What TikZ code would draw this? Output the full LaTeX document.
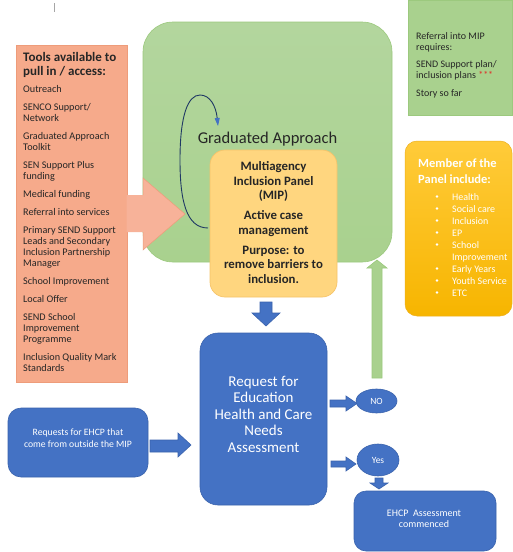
\documentclass[tikz,border=0pt]{standalone}
\usepackage{fontspec}
\setmainfont{Carlito}
\usetikzlibrary{arrows.meta,shapes.geometric}
\definecolor{gfill}{HTML}{A9D18E}
\definecolor{gtop}{HTML}{B3D69E}
\definecolor{gdraw}{HTML}{9CC97E}
\definecolor{ofill}{HTML}{F6AA8B}
\definecolor{odraw}{HTML}{EE9C7A}
\definecolor{afill}{HTML}{F7B299}
\definecolor{mipfill}{HTML}{FFD67F}
\definecolor{mipdraw}{HTML}{F6C46A}
\definecolor{bfill}{HTML}{4472C4}
\definecolor{bdraw}{HTML}{3A63AD}
\definecolor{ytop}{HTML}{FFCB3A}
\definecolor{ybot}{HTML}{F7B500}
\definecolor{ydraw}{HTML}{EDB020}
\definecolor{navy}{HTML}{1F3864}
\definecolor{txt}{HTML}{262626}
\definecolor{star}{HTML}{E0302A}
\tikzset{
  tooltxt/.style={anchor=base west, inner sep=0pt, text=txt, font=\fontsize{10.2}{11}\selectfont},
  reftxt/.style={anchor=base west, inner sep=0pt, text=txt, font=\fontsize{10}{11}\selectfont},
  memtxt/.style={anchor=base west, inner sep=0pt, text=white, font=\fontsize{10}{12}\selectfont},
  blockarrow/.style={fill=bfill, draw=bdraw, line width=0.6pt},
}
\begin{document}
\begin{tikzpicture}[x=1pt,y=-1pt]
\useasboundingbox (0,0) rectangle (512,552);
\fill[white] (0,0) rectangle (512,552);

% small mark at top
\draw[gray!70, line width=1pt] (54,3) -- (54,12);

% big green Graduated Approach area
\node[rectangle, rounded corners=30pt, minimum width=249pt, minimum height=240pt,
      top color=gtop, bottom color=gfill, draw=gdraw, line width=0.6pt] (ga) at (267.5,142) {};

% tools box
\node[rectangle, minimum width=111pt, minimum height=337pt, fill=ofill, draw=odraw, line width=0.5pt] (tools) at (71.5,213.5) {};
% big orange arrow into green area
\fill[afill] (126.5,195) -- (143,195) -- (143,178) -- (185,214) -- (143,250) -- (143,232) -- (126.5,232) -- cycle;
\draw[odraw, line width=0.5pt] (143,195) -- (143,178) -- (185,214) -- (143,250) -- (143,232);

\node[anchor=base west, inner sep=0pt, text=txt, font=\fontsize{13}{14}\selectfont\bfseries] (tt1) at (23,61) {Tools available to};
\node[anchor=base west, inner sep=0pt, text=txt, font=\fontsize{13}{14}\selectfont\bfseries] (tt2) at (23,75) {pull in / access:};
\node[tooltxt] (t1) at (23,92) {Outreach};
\node[tooltxt] (t2) at (23,110) {SENCO Support/};
\node[tooltxt] (t2b) at (23,121) {Network};
\node[tooltxt] (t3) at (23,139) {Graduated Approach};
\node[tooltxt] (t3b) at (23,150) {Toolkit};
\node[tooltxt] (t4) at (23,168) {SEN Support Plus};
\node[tooltxt] (t4b) at (23,179) {funding};
\node[tooltxt] (t5) at (23,197) {Medical funding};
\node[tooltxt] (t6) at (23,215) {Referral into services};
\node[tooltxt] (t7) at (23,233) {Primary SEND Support};
\node[tooltxt] (t7b) at (23,244) {Leads and Secondary};
\node[tooltxt] (t7c) at (23,255) {Inclusion Partnership};
\node[tooltxt] (t7d) at (23,266) {Manager};
\node[tooltxt] (t8) at (23,284) {School Improvement};
\node[tooltxt] (t9) at (23,302) {Local Offer};
\node[tooltxt] (t10) at (23,320) {SEND School};
\node[tooltxt] (t10b) at (23,331) {Improvement};
\node[tooltxt] (t10c) at (23,342) {Programme};
\node[tooltxt] (t11) at (23,360) {Inclusion Quality Mark};
\node[tooltxt] (t11b) at (23,371) {Standards};

% loop arrow
\draw[navy, line width=0.9pt, -{Triangle[length=8pt,width=5pt,color=bfill]}]
  (208,228) .. controls (186,228) and (180,200) .. (180,160)
  .. controls (180,115) and (188,95) .. (200,95)
  .. controls (210,95) and (216,106) .. (218,126);

\node[inner sep=0pt, text=txt, font=\fontsize{16.5}{18}\selectfont] (gatxt) at (267.5,139) {Graduated Approach};

% MIP box
\node[rectangle, rounded corners=15pt, minimum width=127pt, minimum height=147pt,
      fill=mipfill, draw=mipdraw, line width=0.7pt] (mip) at (273.5,223.5) {};
\node[align=center, inner sep=0pt, text=txt, font=\fontsize{12.8}{14.5}\selectfont\bfseries] (miptxt) at (273.5,222.5) {Multiagency\\Inclusion Panel\\(MIP)\\[5.5pt]Active case\\management\\[5.5pt]Purpose: to\\remove barriers to\\inclusion.};

% down arrow MIP -> request
\draw[blockarrow] (260,302) -- (272,302) -- (272,313) -- (280,313) -- (266,326) -- (252,313) -- (260,313) -- cycle;

% request box
\node[rectangle, rounded corners=18pt, minimum width=127pt, minimum height=172pt,
      fill=bfill, draw=bdraw, line width=0.6pt] (req) at (263.5,419) {};
\node[align=center, inner sep=0pt, text=white, font=\fontsize{15}{16.5}\selectfont] (reqtxt) at (263.5,414) {Request for\\Education\\Health and Care\\Needs\\Assessment};

% outside requests box
\node[rectangle, rounded corners=13pt, minimum width=140pt, minimum height=69pt,
      fill=bfill, draw=bdraw, line width=0.6pt] (out) at (78,442.5) {};
\node[align=center, inner sep=0pt, text=white, font=\fontsize{9.7}{12}\selectfont] (outtxt) at (78,438.5) {Requests for EHCP that\\come from outside the MIP};

% arrow out -> request
\draw[blockarrow] (150,440) -- (178,440) -- (178,433) -- (191,445) -- (178,457) -- (178,452) -- (150,452) -- cycle;

% NO
\draw[blockarrow] (330,400) -- (346,400) -- (346,396) -- (357,403.5) -- (346,411) -- (346,407) -- (330,407) -- cycle;
\node[ellipse, minimum width=41pt, minimum height=24pt, inner sep=0pt, fill=bfill, draw=bdraw, line width=0.6pt,
      text=white, font=\fontsize{9.5}{10}\selectfont] (no) at (376.5,401) {NO};

% green up arrow
\draw[fill=gfill, draw=gdraw, line width=0.6pt] (372,378) -- (372,268) -- (367,268) -- (377,260) -- (387,268) -- (382,268) -- (382,378) -- cycle;

% Yes
\draw[blockarrow] (331,461) -- (346,461) -- (346,457) -- (356,464) -- (346,471) -- (346,467) -- (331,467) -- cycle;
\node[ellipse, minimum width=42pt, minimum height=32pt, inner sep=0pt, fill=bfill, draw=bdraw, line width=0.6pt,
      text=white, font=\fontsize{9.5}{10}\selectfont] (yes) at (378,460) {Yes};
\draw[blockarrow] (375,478) -- (383,478) -- (383,483) -- (388,483) -- (379,489) -- (370,483) -- (375,483) -- cycle;

% EHCP box
\node[rectangle, rounded corners=12pt, minimum width=142pt, minimum height=60pt,
      fill=bfill, draw=bdraw, line width=0.6pt] (ehcp) at (425,521) {};
\node[align=center, inner sep=0pt, text=white, font=\fontsize{10}{11}\selectfont] (ehcptxt) at (424,518.5) {EHCP\ \ Assessment\\commenced};

% referral box
\node[rectangle, minimum width=104pt, minimum height=115pt, fill=gfill, draw=gdraw, line width=0.5pt] (ref) at (460,57.5) {};
\node[reftxt] (r1) at (416,39) {Referral into MIP};
\node[reftxt] (r2) at (416,50) {requires:};
\node[reftxt] (r3) at (416,67) {SEND Support plan/};
\node[reftxt] (r4) at (416,78) {inclusion plans \textcolor{star}{***}};
\node[reftxt] (r5) at (416,96) {Story so far};

% member box
\node[rectangle, rounded corners=12pt, minimum width=107pt, minimum height=175pt,
      top color=ytop, bottom color=ybot, draw=ydraw, line width=0.5pt] (mem) at (458.5,228.5) {};
\node[anchor=base west, inner sep=0pt, text=white, font=\fontsize{12.5}{16}\selectfont\bfseries] (m0) at (418,167) {Member of the};
\node[anchor=base west, inner sep=0pt, text=white, font=\fontsize{12.5}{16}\selectfont\bfseries] (m0b) at (418,183) {Panel include:};
\foreach \yy in {200,212,224,236,248,272,284,296}
  \fill[white] (437,\yy-3.5) circle (1.3pt);
\node[memtxt] (m1) at (452,200) {Health};
\node[memtxt] (m2) at (452,212) {Social care};
\node[memtxt] (m3) at (452,224) {Inclusion};
\node[memtxt] (m4) at (452,236) {EP};
\node[memtxt] (m5) at (452,248) {School};
\node[memtxt] (m5b) at (452,260) {Improvement};
\node[memtxt] (m6) at (452,272) {Early Years};
\node[memtxt] (m7) at (452,284) {Youth Service};
\node[memtxt] (m8) at (452,296) {ETC};
\end{tikzpicture}
\end{document}
